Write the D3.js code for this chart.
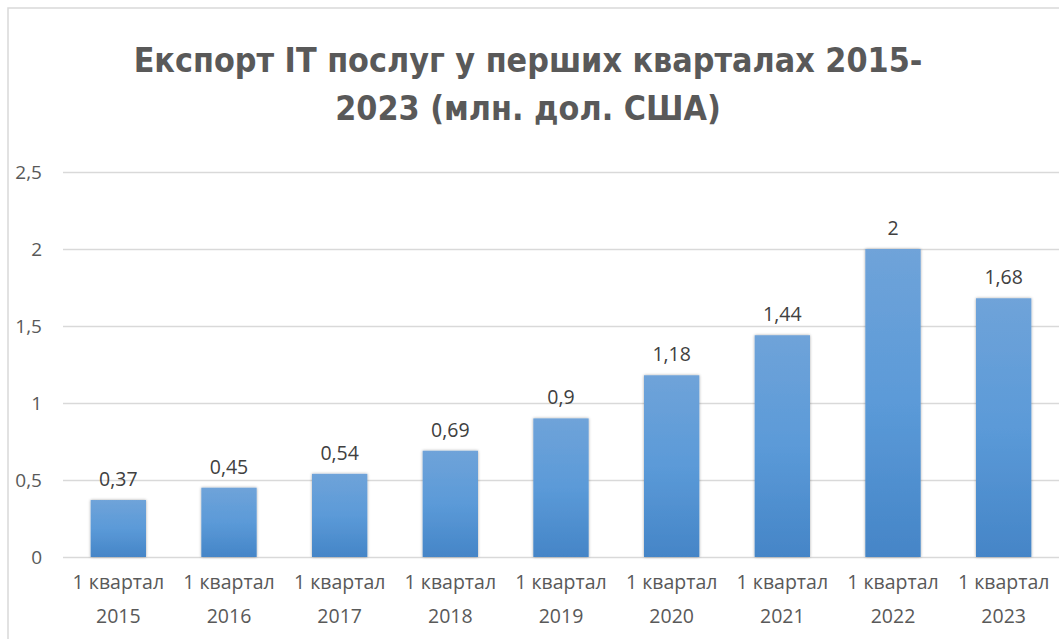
<!DOCTYPE html>
<html>
<head>
<meta charset="utf-8">
<script src="https://cdn.jsdelivr.net/npm/d3@7"></script>
<style>
  body { margin: 0; background: #fff; }
</style>
</head>
<body>
<script>
// data
var quarters = ["1 квартал", "1 квартал", "1 квартал", "1 квартал", "1 квартал", "1 квартал", "1 квартал", "1 квартал", "1 квартал"]
var years = ["2015", "2016", "2017", "2018", "2019", "2020", "2021", "2022", "2023"]
var values = [0.37, 0.45, 0.54, 0.69, 0.9, 1.18, 1.44, 2, 1.68]
var yTicks = [0, 0.5, 1, 1.5, 2, 2.5]
var titleLines = ["Експорт IT послуг у перших кварталах  2015-", "2023 (млн. дол. США)"]

var W = 1059, H = 639
var margin = {top: 172, right: 0, bottom: 82, left: 63}
var labelFont = "'Open Sans', 'Noto Sans', sans-serif"

var svg = d3.select("body").append("svg")
  .attr("width", W)
  .attr("height", H)
  .attr("font-family", labelFont)

var defs = svg.append("defs")
var grad = defs.append("linearGradient")
  .attr("id", "barGrad")
  .attr("x1", 0).attr("y1", 0).attr("x2", 0).attr("y2", 1)
grad.append("stop").attr("offset", "0%").attr("stop-color", "#6fa3d9")
grad.append("stop").attr("offset", "50%").attr("stop-color", "#5b9ad8")
grad.append("stop").attr("offset", "100%").attr("stop-color", "#4585c7")

var shadow = defs.append("filter").attr("id", "shadow")
  .attr("x", "-20%").attr("y", "-5%").attr("width", "140%").attr("height", "110%")
shadow.append("feGaussianBlur").attr("in", "SourceAlpha").attr("stdDeviation", 1.5)
shadow.append("feComponentTransfer").append("feFuncA").attr("type", "linear").attr("slope", 0.35)
var merge = shadow.append("feMerge")
merge.append("feMergeNode")
merge.append("feMergeNode").attr("in", "SourceGraphic")

// chart frame
svg.append("rect")
  .attr("x", 8).attr("y", 8)
  .attr("width", W + 10).attr("height", H + 10)
  .attr("fill", "#fff")
  .attr("stroke", "#d9d9d9")
  .attr("stroke-width", 1.5)

// title - narrow bold face, sized so the first line spans like the original
var title = svg.append("text")
  .attr("text-anchor", "middle")
  .attr("fill", "#595959")
  .attr("font-weight", "bold")
  .attr("font-size", 38)
  .attr("font-family", "'Liberation Sans Narrow', 'DejaVu Sans Condensed', sans-serif")
var tsp = title.selectAll("tspan")
  .data(titleLines)
  .enter().append("tspan")
  .attr("x", 528)
  .attr("y", function(d, i) { return 72 + i * 48 })
  .text(function(d) { return d })
var w0 = tsp.node().getComputedTextLength()
if (w0 > 0) title.attr("font-size", Math.min(40, 38 * 789 / w0))

var innerH = H - margin.top - margin.bottom

var x = d3.scaleBand()
  .domain(years)
  .range([margin.left, W - margin.right])
  .paddingInner(0.5)
  .paddingOuter(0.25)

var y = d3.scaleLinear()
  .domain([0, 2.5])
  .range([margin.top + innerH, margin.top])

// y axis with gridlines
var yAxis = svg.append("g")
  .attr("transform", "translate(" + margin.left + ",0)")
  .call(d3.axisLeft(y)
    .tickValues(yTicks)
    .tickSize(-(W - margin.left))
    .tickPadding(21)
    .tickFormat(function(d) { return String(d).replace(".", ",") }))
yAxis.select(".domain").remove()
yAxis.selectAll(".tick line")
  .attr("stroke", "#d9d9d9")
  .attr("stroke-width", 1.5)
yAxis.selectAll(".tick text")
  .attr("fill", "#595959")
  .attr("font-size", 19)
  .attr("font-family", labelFont)

// bars
svg.append("g").selectAll("rect")
  .data(values)
  .enter().append("rect")
  .attr("x", function(d, i) { return x(years[i]) })
  .attr("y", function(d) { return y(d) })
  .attr("width", x.bandwidth())
  .attr("height", function(d) { return y(0) - y(d) })
  .attr("fill", "url(#barGrad)")
  .attr("filter", "url(#shadow)")

// value labels
svg.append("g").selectAll("text")
  .data(values)
  .enter().append("text")
  .attr("x", function(d, i) { return x(years[i]) + x.bandwidth() / 2 })
  .attr("y", function(d) { return y(d) - 14 })
  .attr("text-anchor", "middle")
  .attr("fill", "#404040")
  .attr("font-size", 19.5)
  .text(function(d) { return String(d).replace(".", ",") })

// x axis labels
var xAxis = svg.append("g")
  .attr("transform", "translate(0," + y(0) + ")")
  .call(d3.axisBottom(x).tickSize(0).tickFormat(""))
xAxis.select(".domain").remove()
var xl = xAxis.selectAll(".tick").append("text")
  .attr("text-anchor", "middle")
  .attr("fill", "#595959")
  .attr("font-size", 19.5)
  .attr("font-family", labelFont)
xl.append("tspan").attr("x", 0).attr("y", 32)
  .text(function(d, i) { return quarters[i] })
xl.append("tspan").attr("x", 0).attr("y", 66)
  .text(function(d) { return d })
</script>
</body>
</html>
